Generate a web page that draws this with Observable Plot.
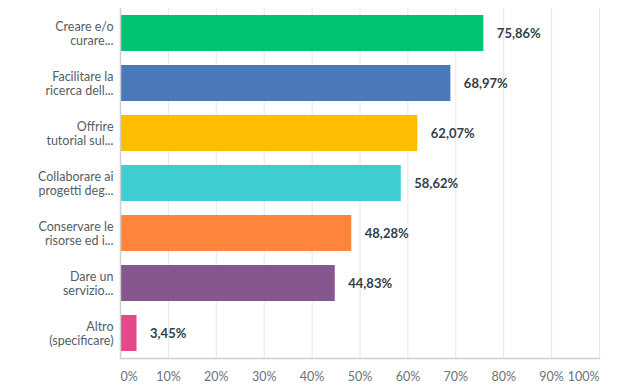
<!DOCTYPE html>
<html>
<head>
<meta charset="utf-8">
<script src="https://cdn.jsdelivr.net/npm/d3@7"></script>
<script src="https://cdn.jsdelivr.net/npm/@observablehq/plot@0.6"></script>
<style>
  html, body { margin: 0; padding: 0; background: #fff; }
  #chart { width: 627px; height: 391px; }
</style>
</head>
<body>
<div id="chart"></div>
<script>
const categories = [
  "Creare e/o\ncurare...",
  "Facilitare la\nricerca dell...",
  "Offrire\ntutorial sul...",
  "Collaborare ai\nprogetti deg...",
  "Conservare le\nrisorse ed i...",
  "Dare un\nservizio...",
  "Altro\n(specificare)"
];
const values = [75.86, 68.97, 62.07, 58.62, 48.28, 44.83, 3.45];
const colors = ["#00c471", "#4b78b8", "#fdbd00", "#3ecdd0", "#ff853a", "#86578f", "#e5498b"];
const tickValues = [0, 10, 20, 30, 40, 50, 60, 70, 80, 90, 100];

const data = categories.map((c, i) => ({cat: c, value: values[i], color: colors[i]}));
const fmt = v => v.toFixed(2).replace(".", ",") + "%";

const chart = Plot.plot({
  width: 627,
  height: 391,
  marginLeft: 120,
  marginRight: 28,
  marginTop: 8,
  marginBottom: 33,
  style: {fontFamily: "Lato, sans-serif", fontSize: "12px", background: "#fff"},
  x: {domain: [0, 100], axis: null},
  y: {domain: categories, paddingInner: 0.28, paddingOuter: 0.14, axis: null},
  marks: [
    Plot.gridX(tickValues.slice(1), {stroke: "#e6e6e6", strokeOpacity: 1}),
    Plot.barX(data, {y: "cat", x: "value", fill: "color"}),
    Plot.text(data, {y: "cat", x: "value", text: d => fmt(d.value), dx: 13, textAnchor: "start",
      fill: "#333e48", fontWeight: "bold", fontSize: 13}),
    Plot.axisY({tickSize: 0, tickPadding: 7, fill: "#545e66", fontSize: 12.5, lineHeight: 1.15, label: null}),
    Plot.axisX([0], {tickSize: 0, tickPadding: 14, textAnchor: "start", fill: "#6a737c", fontSize: 12.5, tickFormat: d => d + "%", label: null}),
    Plot.axisX(tickValues.slice(1, -1), {tickSize: 0, tickPadding: 14, fill: "#6a737c", fontSize: 12.5, tickFormat: d => d + "%", label: null}),
    Plot.axisX([100], {tickSize: 0, tickPadding: 14, textAnchor: "end", fill: "#6a737c", fontSize: 12.5, tickFormat: d => d + "%", label: null}),
    Plot.ruleX([0], {stroke: "#cfcfcf", strokeWidth: 1.5}),
    Plot.frame({anchor: "bottom", stroke: "#cfcfcf", strokeWidth: 1.5})
  ]
});
document.getElementById("chart").appendChild(chart);
</script>
</body>
</html>
